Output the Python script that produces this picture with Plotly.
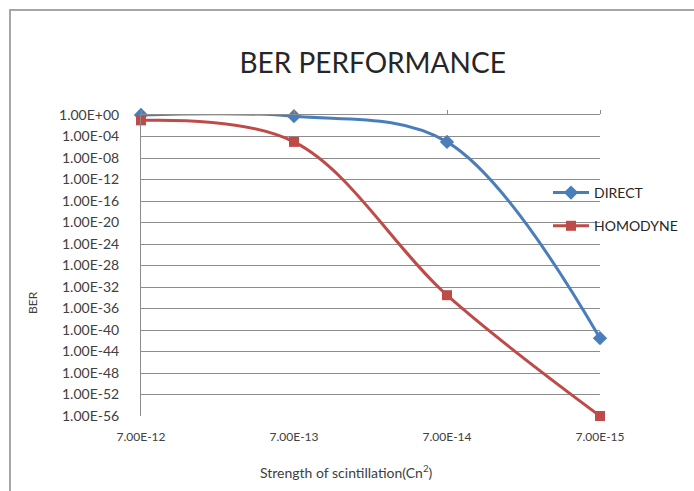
import plotly.graph_objects as go

categories = ["7.00E-12", "7.00E-13", "7.00E-14", "7.00E-15"]
direct = [1.0, 0.6, 1e-5, 3e-42]
homodyne = [1e-1, 1e-5, 3e-34, 1e-56]

y_exponents = list(range(0, -57, -4))
y_tickvals = [10.0 ** e for e in y_exponents]
y_ticktext = ["1.00E+00"] + ["1.00E-%02d" % (-e) for e in y_exponents[1:]]

FONT = "Lato"
BLUE = "#4A7EBB"
RED = "#BE4B48"
GRID = "#8C8C8C"

fig = go.Figure()
fig.add_trace(go.Scatter(
    x=categories, y=direct, name="DIRECT", mode="lines+markers",
    line=dict(color=BLUE, width=3, shape="spline", smoothing=1.0),
    marker=dict(symbol="diamond", size=11, color=BLUE),
    cliponaxis=False, legendgroup="a"))
fig.add_trace(go.Scatter(
    x=categories, y=homodyne, name="HOMODYNE", mode="lines+markers",
    line=dict(color=RED, width=3, shape="spline", smoothing=1.0),
    marker=dict(symbol="square", size=10, color=RED),
    cliponaxis=False, legendgroup="b"))

fig.update_layout(
    width=694, height=491,
    margin=dict(l=141, r=94, t=115, b=75, autoexpand=False),
    paper_bgcolor="white", plot_bgcolor="white",
    font=dict(family=FONT, color="#404040"),
    title=dict(text="BER PERFORMANCE", x=0.537, xanchor="center",
               y=1 - 63 / 491, yanchor="middle",
               font=dict(family=FONT, size=28, color="#262626")),
    showlegend=True,
    legend=dict(x=(548 - 141) / 459, xanchor="left", y=(416 - 177) / 301, yanchor="top",
                bgcolor="rgba(0,0,0,0)", font=dict(family=FONT, size=14, color="#262626"),
                tracegroupgap=12, itemwidth=36),
    xaxis=dict(type="category", range=[0, 3], showgrid=False, showline=False,
               zeroline=False, ticks="", ticklabelstandoff=12,
               tickfont=dict(family=FONT, size=12, color="#404040")),
    xaxis2=dict(type="category", overlaying="x", matches="x", side="top",
                showline=True, linecolor=GRID, linewidth=1, ticks="outside",
                ticklen=4, tickcolor=GRID, showticklabels=False, showgrid=False,
                anchor="y"),
    yaxis=dict(type="log", range=[-56, 0], tickvals=y_tickvals, ticktext=y_ticktext,
               showgrid=True, gridcolor=GRID, gridwidth=1, showline=True,
               linecolor=GRID, linewidth=1, zeroline=False, ticks="",
               ticklabelstandoff=18,
               tickfont=dict(family=FONT, size=14, color="#404040")),
    annotations=[
        dict(text="BER", xref="paper", yref="paper", x=(32 - 141) / 459, y=(416 - 303) / 301,
             textangle=-90, showarrow=False, xanchor="center", yanchor="middle",
             font=dict(family=FONT, size=12, color="#404040")),
        dict(text="Strength of scintillation(Cn<sup>2</sup>)", xref="paper", yref="paper",
             x=(346 - 141) / 459, y=(416 - 472) / 301, showarrow=False,
             xanchor="center", yanchor="middle",
             font=dict(family=FONT, size=14, color="#404040")),
    ],
    shapes=[
        dict(type="rect", xref="paper", yref="paper",
             x0=(10 - 141) / 459, x1=(900 - 141) / 459,
             y0=(416 - 700) / 301, y1=(416 - 10) / 301,
             line=dict(color="#A6A6A6", width=2), layer="below"),
    ],
)

fig.add_trace(go.Scatter(x=categories, y=[None] * 4, xaxis="x2", yaxis="y",
                         showlegend=False, hoverinfo="skip", mode="lines"))

fig.write_html("out.html")
